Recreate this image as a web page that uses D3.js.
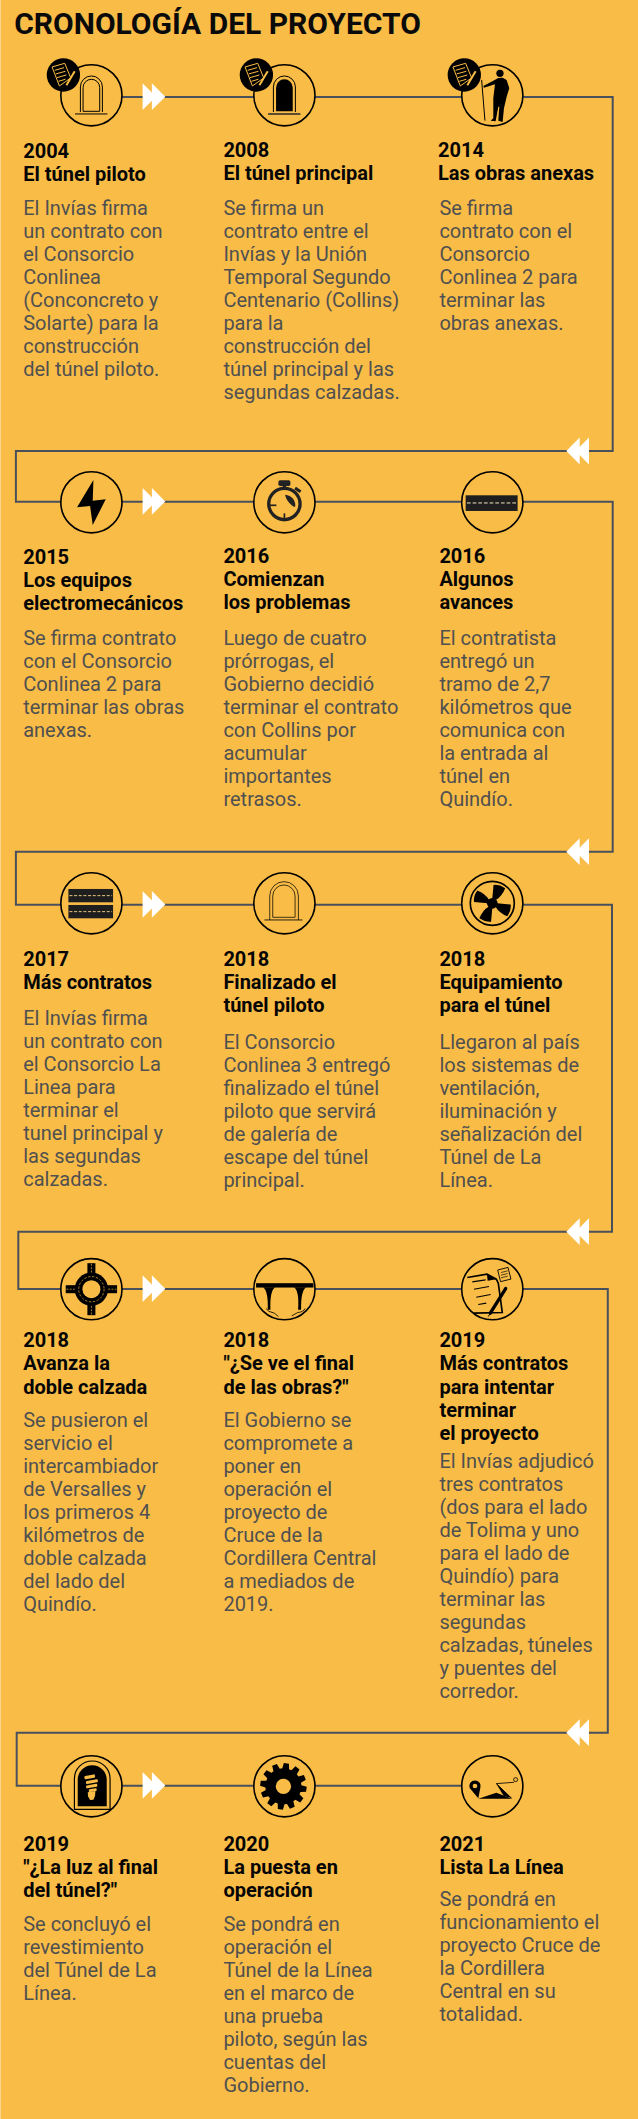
<!DOCTYPE html>
<html><head><meta charset="utf-8">
<script src="https://cdn.jsdelivr.net/npm/d3@7/dist/d3.min.js"></script>
<style>html,body{margin:0;padding:0;background:#F9BC47}svg{display:block}text{font-family:Roboto,sans-serif}</style>
</head><body><svg id="c" width="638" height="2119"></svg>
<script>
const chartTitle = "CRONOLOGÍA DEL PROYECTO";
const years = ["2004","2008","2014","2015","2016","2016","2017","2018","2018","2018","2018","2019","2019","2020","2021"];
const headings = [
 ["El túnel piloto"],["El túnel principal"],["Las obras anexas"],
 ["Los equipos","electromecánicos"],["Comienzan","los problemas"],["Algunos","avances"],
 ["Más contratos"],["Finalizado el","túnel piloto"],["Equipamiento","para el túnel"],
 ["Avanza la","doble calzada"],["\"¿Se ve el final","de las obras?\""],["Más contratos","para intentar","terminar","el proyecto"],
 ["\"¿La luz al final","del túnel?\""],["La puesta en","operación"],["Lista La Línea"]];
const bodies = [
 ["El Invías firma","un contrato con","el Consorcio","Conlinea","(Conconcreto y","Solarte) para la","construcción","del túnel piloto."],
 ["Se firma un","contrato entre el","Invías y la Unión","Temporal Segundo","Centenario (Collins)","para la","construcción del","túnel principal y las","segundas calzadas."],
 ["Se firma","contrato con el","Consorcio","Conlinea 2 para","terminar las","obras anexas."],
 ["Se firma contrato","con el Consorcio","Conlinea 2 para","terminar las obras","anexas."],
 ["Luego de cuatro","prórrogas, el","Gobierno decidió","terminar el contrato","con Collins por","acumular","importantes","retrasos."],
 ["El contratista","entregó un","tramo de 2,7","kilómetros que","comunica con","la entrada al","túnel en","Quindío."],
 ["El Invías firma","un contrato con","el Consorcio La","Linea para","terminar el","tunel principal y","las segundas","calzadas."],
 ["El Consorcio","Conlinea 3 entregó","finalizado el túnel","piloto que servirá","de galería de","escape del túnel","principal."],
 ["Llegaron al país","los sistemas de","ventilación,","iluminación y","señalización del","Túnel de La","Línea."],
 ["Se pusieron el","servicio el","intercambiador","de Versalles y","los primeros 4","kilómetros de","doble calzada","del lado del","Quindío."],
 ["El Gobierno se","compromete a","poner en","operación el","proyecto de","Cruce de la","Cordillera Central","a mediados de","2019."],
 ["El Invías adjudicó","tres contratos","(dos para el lado","de Tolima y uno","para el lado de","Quindío) para","terminar las","segundas","calzadas, túneles","y puentes del","corredor."],
 ["Se concluyó el","revestimiento","del Túnel de La","Línea."],
 ["Se pondrá en","operación el","Túnel de la Línea","en el marco de","una prueba","piloto, según las","cuentas del","Gobierno."],
 ["Se pondrá en","funcionamiento el","proyecto Cruce de","la Cordillera","Central en su","totalidad."]];
const icons = ["arch","archFilled","worker","bolt","watch","road","roads","archThin","fan","roundabout","bridge","contract","bulb","gear","map"];
const badged = [0,1,2];

// layout
const BG="#F9BC47", LINE="#4A4F5C", INK="#000", BODY="#505050";
const W=638,H=2119;
const circleX=d3.scaleOrdinal([0,1,2],[91.4,284.4,492.3]);
const textX=d3.scaleOrdinal([0,1,2],[23.2,223.4,439.4]);
const rowCircleY=[95.3,502.3,903.3,1289.2,1786.3];
const rowLineY=[97,501.7,904.7,1289,1785.7];
const returnY=[451,851.7,1231.7,1732.7];
const rightX=[612.7,612.7,612,607.8];
const leftX=[15.9,15.9,18.3,16.7];
const yearY=[158.3,156.7,156.7,564,562.7,562.7,965.7,965.7,965.7,1347.3,1347.3,1347.3,1851,1851,1851];
const bodyY=[215,215,215,645,645,645,1025,1049,1049,1426.7,1426.7,1468,1931,1931,1906];

const svg=d3.select("#c");
svg.append("rect").attr("width",W).attr("height",H).attr("fill",BG);
svg.append("rect").attr("width",1).attr("height",H).attr("fill","#FBD58C");
svg.append("text").attr("x",14.2).attr("y",33.6).attr("font-size",30).attr("font-weight",700).attr("fill","#0a0a0a").text(chartTitle);

// route
const line=d3.line();
const route=[];
rowLineY.forEach((y,r)=>{
  if(r>0) route.push([leftX[r-1],y]);
  else route.push([circleX(0),y]);
  if(r<rowLineY.length-1){route.push([rightX[r],y],[rightX[r],returnY[r]],[leftX[r],returnY[r]]);}
  else route.push([circleX(2),y]);
});
svg.append("path").attr("d",line(route)).attr("fill","none").attr("stroke",LINE).attr("stroke-width",2);

// chevrons
function chevrons(x,y,dir){
  const g=svg.append("g").attr("transform",`translate(${x},${y}) scale(${dir},1)`).attr("fill","#fff");
  [0,9.3].forEach(o=>g.append("path").attr("d",line([[o,-13.4],[o+13.4,0],[o,13.4]])+"Z"));
}
rowLineY.forEach(y=>chevrons(142.6,y-.3,1));
returnY.forEach(y=>chevrons(589,y,-1));

// icon helpers: drawn in 3x crop coordinates
function P(g,pts,fill,stroke,sw){return g.append("path").attr("d",line(pts)+(fill&&fill!="none"?"Z":"")).attr("fill",fill||"none").attr("stroke",stroke||"none").attr("stroke-width",sw||0);}
function D(g,d,fill,stroke,sw){return g.append("path").attr("d",d).attr("fill",fill||"none").attr("stroke",stroke||"none").attr("stroke-width",sw||0);}
function C(g,x,y,r,fill,stroke,sw){return g.append("circle").attr("cx",x).attr("cy",y).attr("r",r).attr("fill",fill||"none").attr("stroke",stroke||"none").attr("stroke-width",sw||0);}
function R(g,x,y,w,h,fill,rx){return g.append("rect").attr("x",x).attr("y",y).attr("width",w).attr("height",h).attr("fill",fill).attr("rx",rx||0);}
function arch(g,x0,x1,top,bot){const r=(x1-x0)/2;return `M${x0},${bot}V${top+r}A${r},${r} 0 0 1 ${x1},${top+r}V${bot}`;}
function docBadge(g){ // origin = circle centre
  C(g,-84,-61,50,"#000");
  const y=BG;
  P(g,[[-118,-85],[-80,-96],[-62,-52],[-96,-28]],"#000",y,3);
  [[-110,-75,-82,-83],[-107,-64,-78,-72],[-103,-53,-75,-61],[-99,-42,-78,-48]].forEach(l=>P(g,[[l[0],l[1]],[l[2],l[3]]],null,y,3));
  P(g,[[-50,-72],[-75,-30]],null,y,6);
}
const drawIcon={
 arch(g){ D(g,arch(g,-33,33,-58,50),"none",INK,3); D(g,arch(g,-25,25,-48,48)+"Z","none",INK,3); P(g,[[-49,56],[48,56]],null,INK,3); },
 archFilled(g){ D(g,arch(g,-33,33,-58,50),"none",INK,3); D(g,arch(g,-25,25,-48,48)+"Z",INK); P(g,[[-49,56],[48,56]],null,"#2a2a2a",4); },
 archThin(g){ D(g,arch(g,-44,42,-65,50),"none",INK,2.2); D(g,arch(g,-35,32,-55,42)+"Z","none",INK,2.2); P(g,[[-60,50],[54,50]],null,INK,2.5); },
 worker(g){
  C(g,23,-66,11,INK);
  P(g,[[18,-52],[3,-44],[-27,-28],[-25,-23],[8,-33],[3,9],[3,69],[-5,76],[10,78],[18,34],[21,34],[18,76],[31,80],[35,39],[43,4],[51,-21],[43,-46],[31,-53]],INK);
  P(g,[[-32,-46],[-22,76]],null,INK,3);
 },
 bolt(g){ P(g,[[6,-67],[-43,15],[-4,11],[4,68],[43,-9],[4,-5]],INK); },
 watch(g){
  const c="#222";
  C(g,0,5,47,"none",c,10);
  R(g,-18,-66,36,17,c,5); R(g,-5,-50,10,10,c);
  g.append("rect").attr("x",30).attr("y",-42).attr("width",20).attr("height",9).attr("fill",c).attr("transform","rotate(35 40 -37)");
  P(g,[[-48,9],[-24,9]],null,c,5); P(g,[[0,33],[0,57]],null,c,5);
  D(g,"M2,-23C22,-22 36,-4 32,14C20,10 5,-6 2,-23Z",c);
 },
 road(g){
  R(g,-80,-21,156,47,"#1e1e1e");
  P(g,[[-76,2],[74,2]],null,"#F5E6C0",3).attr("stroke-dasharray","11 6");
 },
 roads(g){
  [-43,5].forEach(y=>{R(g,-69,y,134,40,"#1e1e1e");P(g,[[-66,y+20],[62,y+20]],null,"#E8C27A",3).attr("stroke-dasharray","9 5");});
 },
 fan(g){
  C(g,0,0,66,"none",INK,5); C(g,0,0,16,INK);
  d3.range(4).forEach(i=>D(g,"M-2,-14L-4,-55Q12,-60 32,-50Q26,-25 10,-12Z",INK).attr("transform",`rotate(${i*90+8})`));
 },
 roundabout(g){
  const roadW=24;
  R(g,-roadW/2,-78,roadW,156,INK); R(g,-77,-roadW/2,154,roadW,INK);
  C(g,0,0,50,INK); C(g,0,0,27,BG);
  C(g,0,0,38,"none",BG,2).attr("stroke-dasharray","7 5");
  [[0,-76,0,-50],[0,50,0,76],[-75,0,-50,0],[50,0,75,0]].forEach(l=>P(g,[[l[0],l[1]],[l[2],l[3]]],null,BG,2).attr("stroke-dasharray","6 4"));
 },
 bridge(g){
  R(g,-85,-18,172,13,INK);
  D(g,"M-64,-6Q-48,5 -50,62L-42,62Q-44,5 -28,-6Z",INK);
  D(g,"M29,-6Q45,5 41,62L50,62Q49,5 65,-6Z",INK);
  D(g,"M-55,58Q-50,68 -30,72L-18,82","none",INK,2.5);
  D(g,"M62,58Q58,68 40,70L22,80","none",INK,2.5);
 },
 contract(g){
  P(g,[[-75,-35],[-16,-45],[12,-30],[18,-18],[30,70],[-55,72]],"none",INK,5);
  [[-60,-22,-20,-28],[-55,0,-10,-8],[-48,24,-5,16],[-42,46,-18,42]].forEach(l=>P(g,[[l[0],l[1]],[l[2],l[3]]],null,INK,3.5));
  P(g,[[-16,-45],[-14,-25],[12,-30]],INK);
  P(g,[[40,-2],[-6,72]],null,INK,10).attr("stroke-linecap","round");
  P(g,[[-6,72],[-12,82]],null,INK,3);
  g.append("rect").attr("x",20).attr("y",-62).attr("width",32).attr("height",36).attr("fill","none").attr("stroke",INK).attr("stroke-width",2.5).attr("transform","rotate(-14 36 -44)");
  [-52,-44,-36].forEach(y=>P(g,[[26,y+2],[46,y-3]],null,INK,2));
 },
 bulb(g){
  D(g,arch(g,-51,56,-76,69)+"Z","none",INK,3.5);
  D(g,arch(g,-41,46,-63,60)+"Z",INK);
  [[-16,-34,32,10],[-14,-18,36,9],[-16,-5,34,9],[-10,8,24,8]].forEach(b=>g.append("rect").attr("x",b[0]).attr("y",b[1]).attr("width",b[2]).attr("height",b[3]).attr("rx",3).attr("fill",BG).attr("transform","rotate(-10 0 0)"));
  D(g,"M-11,18L12,14L11,28L6,40L-4,41L-10,30Z",BG);
 },
 gear(g){
  const n=12,ro=70,ri=54,a=2*Math.PI/n,pts=[];
  d3.range(n).forEach(i=>{const t=i*a+.13;
   [[ri,-.19],[ro,-.11],[ro,.11],[ri,.19]].forEach(([r,o])=>pts.push([-3+r*Math.sin(t+o),-r*Math.cos(t+o)]));});
  P(g,pts,INK); C(g,-3,0,23,BG);
 },
 map(g){
  D(g,"M-42,36L-68,5A17,17 0 1 1 -36,5Z",INK); C(g,-52,-1,7,BG);
  P(g,[[-42,37],[12,19],[58,37]],INK);
  P(g,[[12,-8],[58,36]],null,INK,3);
  P(g,[[12,-8],[58,36],[34,28]],INK);
  P(g,[[12,-8],[65,-12]],null,INK,2.5);
  C(g,70,-20,6,"none",INK,2.5);
 }
};

// cards
years.forEach((yr,i)=>{
  const col=i%3,row=Math.floor(i/3);
  const cx=circleX(col),cy=rowCircleY[row];
  C(svg,cx,cy,30.6,BG,INK,1.6);
  const ic=svg.append("g").attr("transform",`translate(${cx},${cy}) scale(${1/3})`);
  drawIcon[icons[i]](ic);
  if(badged.includes(i)) docBadge(ic);

  const x=textX(col);
  const t=svg.append("g");
  const hx=(i===2)?438:x;
  t.append("text").attr("x",hx).attr("y",yearY[i]).attr("font-size",20).attr("font-weight",700).attr("fill","#050505").text(yr);
  t.selectAll(".h").data(headings[i]).join("text").attr("class","h").attr("x",hx).attr("y",(d,k)=>yearY[i]+(k+1)*23.1)
    .attr("font-size",20).attr("font-weight",700).attr("fill","#050505").text(d=>d);
  t.selectAll(".b").data(bodies[i]).join("text").attr("class","b").attr("x",x).attr("y",(d,k)=>bodyY[i]+k*23.03)
    .attr("font-size",20).attr("font-weight",400).attr("fill",BODY).text(d=>d);
});
</script></body></html>
